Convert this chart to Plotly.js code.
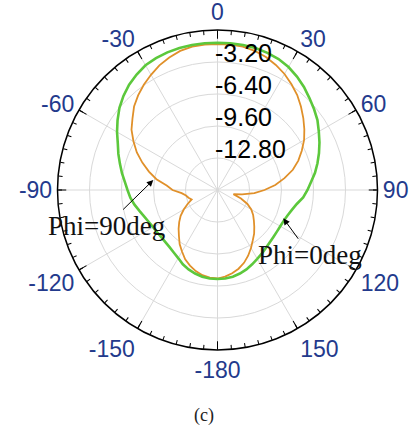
<!DOCTYPE html>
<html>
<head>
<meta charset="utf-8">
<script src="https://cdn.plot.ly/plotly-3.0.1.min.js"></script>
<style>
html,body{margin:0;padding:0;background:#fff;}
#chart{width:412px;height:430px;}
</style>
</head>
<body>
<div id="chart"></div>
<script>
// Angles (deg, clockwise from top) shared by both patterns
const thetaDeg = [-180,-175,-170,-165,-160,-155,-150,-145,-140,-135,-130,-125,-120,-115,-110,-105,-100,-95,-90,-85,-80,-75,-70,-65,-60,-55,-50,-45,-40,-35,-30,-25,-20,-15,-10,-5,0,5,10,15,20,25,30,35,40,45,50,55,60,65,70,75,80,85,90,95,100,105,110,115,120,125,130,135,140,145,150,155,160,165,170,175,180];

// Phi=0deg pattern (dB)
const phi0dB = [-7.1,-7.12,-7.2,-7.35,-7.55,-7.8,-8.14,-8.37,-8.54,-8.63,-8.66,-8.64,-8.56,-8.42,-8.21,-7.92,-7.57,-7.25,-7.0,-6.7,-6.3,-5.9,-5.45,-5.0,-4.4,-3.8,-3.2,-2.7,-2.25,-1.9,-1.6,-1.45,-1.35,-1.3,-1.28,-1.27,-1.27,-1.27,-1.28,-1.3,-1.4,-1.55,-1.8,-2.15,-2.55,-3.0,-3.4,-3.8,-4.3,-4.75,-5.2,-5.65,-6.1,-6.6,-7.0,-7.4,-7.95,-8.3,-8.55,-8.7,-8.75,-8.75,-8.7,-8.6,-8.45,-8.25,-8.05,-7.8,-7.55,-7.35,-7.2,-7.12,-7.1];

// Phi=90deg pattern (dB)
const phi90dB = [-7.15,-7.2,-7.35,-7.6,-7.95,-8.35,-8.9,-9.4,-10.0,-10.5,-11.0,-11.5,-12.1,-12.7,-13.25,-13.0,-12.8,-12.4,-11.5,-10.9,-9.8,-8.9,-8.0,-7.1,-6.3,-5.5,-4.9,-4.2,-3.65,-3.15,-2.7,-2.25,-1.9,-1.6,-1.45,-1.4,-1.4,-1.4,-1.45,-1.6,-1.85,-2.2,-2.6,-3.1,-3.6,-4.2,-4.8,-5.4,-6.0,-6.7,-7.4,-8.2,-9.2,-10.2,-11.3,-12.3,-13.5,-14.35,-13.5,-12.7,-12.1,-11.65,-11.25,-10.8,-10.3,-9.85,-9.3,-8.75,-8.25,-7.85,-7.55,-7.3,-7.15];

// Angular tick positions and labels
const angTickVals = [0,30,60,90,120,150,180,210,240,270,300,330];
const angTickText = ["0","30","60","90","120","150","-180","-150","-120","-90","-60","-30"];

// Radial ticks
const radTickVals = [-12.8,-9.6,-6.4,-3.2];
const radTickText = ["-12.80","-9.60","-6.40","-3.20"];

const dom = {x:[57.5/412, 377.5/412], y:[1-350/430, 1-30/430]};
const domLabels = {x:[42/412, 362/412], y:[1-350/430, 1-30/430]};
const gridCol = '#d9d9d9';

const traces = [
  {type:'scatterpolar', subplot:'polar', theta:thetaDeg, r:phi90dB, mode:'lines',
   line:{color:'#e0902a', width:1.8}, name:'Phi=90deg', showlegend:false},
  {type:'scatterpolar', subplot:'polar', theta:thetaDeg, r:phi0dB, mode:'lines',
   line:{color:'#5cc83c', width:2.6}, name:'Phi=0deg', showlegend:false},
  {type:'scatterpolar', subplot:'polar2', theta:[], r:[], showlegend:false},
  {type:'scatterpolar', subplot:'polar3', theta:[], r:[], showlegend:false}
];

const layout = {
  width:412, height:430,
  margin:{l:0,r:0,t:0,b:0},
  paper_bgcolor:'#fff',
  showlegend:false,
  polar:{
    domain:dom, bgcolor:'#fff',
    angularaxis:{rotation:90, direction:'clockwise', tickmode:'array',
      tickvals:angTickVals, ticktext:angTickText, ticks:'inside', ticklen:8,
      tickcolor:'#000', tickwidth:1, showline:true, linecolor:'#000', linewidth:1.5,
      showgrid:true, gridcolor:gridCol, gridwidth:1,
      tickfont:{family:'Arial, Liberation Sans, sans-serif', size:23, color:'#233a8c'}},
    radialaxis:{range:[-16,0], angle:90, tickmode:'array', tickvals:radTickVals,
      showticklabels:false, ticks:'', showline:false, showgrid:true, gridcolor:gridCol, gridwidth:1}
  },
  polar2:{
    domain:dom, bgcolor:'rgba(0,0,0,0)',
    angularaxis:{rotation:90, direction:'clockwise', tickmode:'linear', tick0:0, dtick:5,
      ticks:'inside', ticklen:4, tickcolor:'#000', tickwidth:1,
      showticklabels:false, showgrid:false, showline:false},
    radialaxis:{visible:false, range:[-16,0]}
  },
  polar3:{
    domain:domLabels, bgcolor:'rgba(0,0,0,0)',
    angularaxis:{visible:false, rotation:90, direction:'clockwise'},
    radialaxis:{range:[-17.25,-1.25], angle:90, tickmode:'array', tickvals:radTickVals,
      ticktext:radTickText, ticks:'', showline:false, showgrid:false,
      tickfont:{family:'Arial, Liberation Sans, sans-serif', size:25, color:'#000'}}
  },
  annotations:[
    {xref:'paper', yref:'paper', x:153.3/412, y:1-180/430, ax:-47, ay:46,
     text:'Phi=90deg', showarrow:true, arrowhead:2, arrowsize:1.3, arrowwidth:1, arrowcolor:'#000',
     font:{family:'Times New Roman, Liberation Serif, serif', size:27, color:'#111'}},
    {xref:'paper', yref:'paper', x:283.3/412, y:1-218.3/430, ax:27, ay:37,
     text:'Phi=0deg', showarrow:true, arrowhead:2, arrowsize:1.3, arrowwidth:1, arrowcolor:'#000',
     font:{family:'Times New Roman, Liberation Serif, serif', size:27, color:'#111'}},
    {xref:'paper', yref:'paper', x:204/412, y:1-415/430, xanchor:'center', yanchor:'middle', showarrow:false,
     text:'(c)', font:{family:'Times New Roman, Liberation Serif, serif', size:18, color:'#222'}}
  ]
};

Plotly.newPlot('chart', traces, layout, {staticPlot:true, displayModeBar:false});
</script>
</body>
</html>
